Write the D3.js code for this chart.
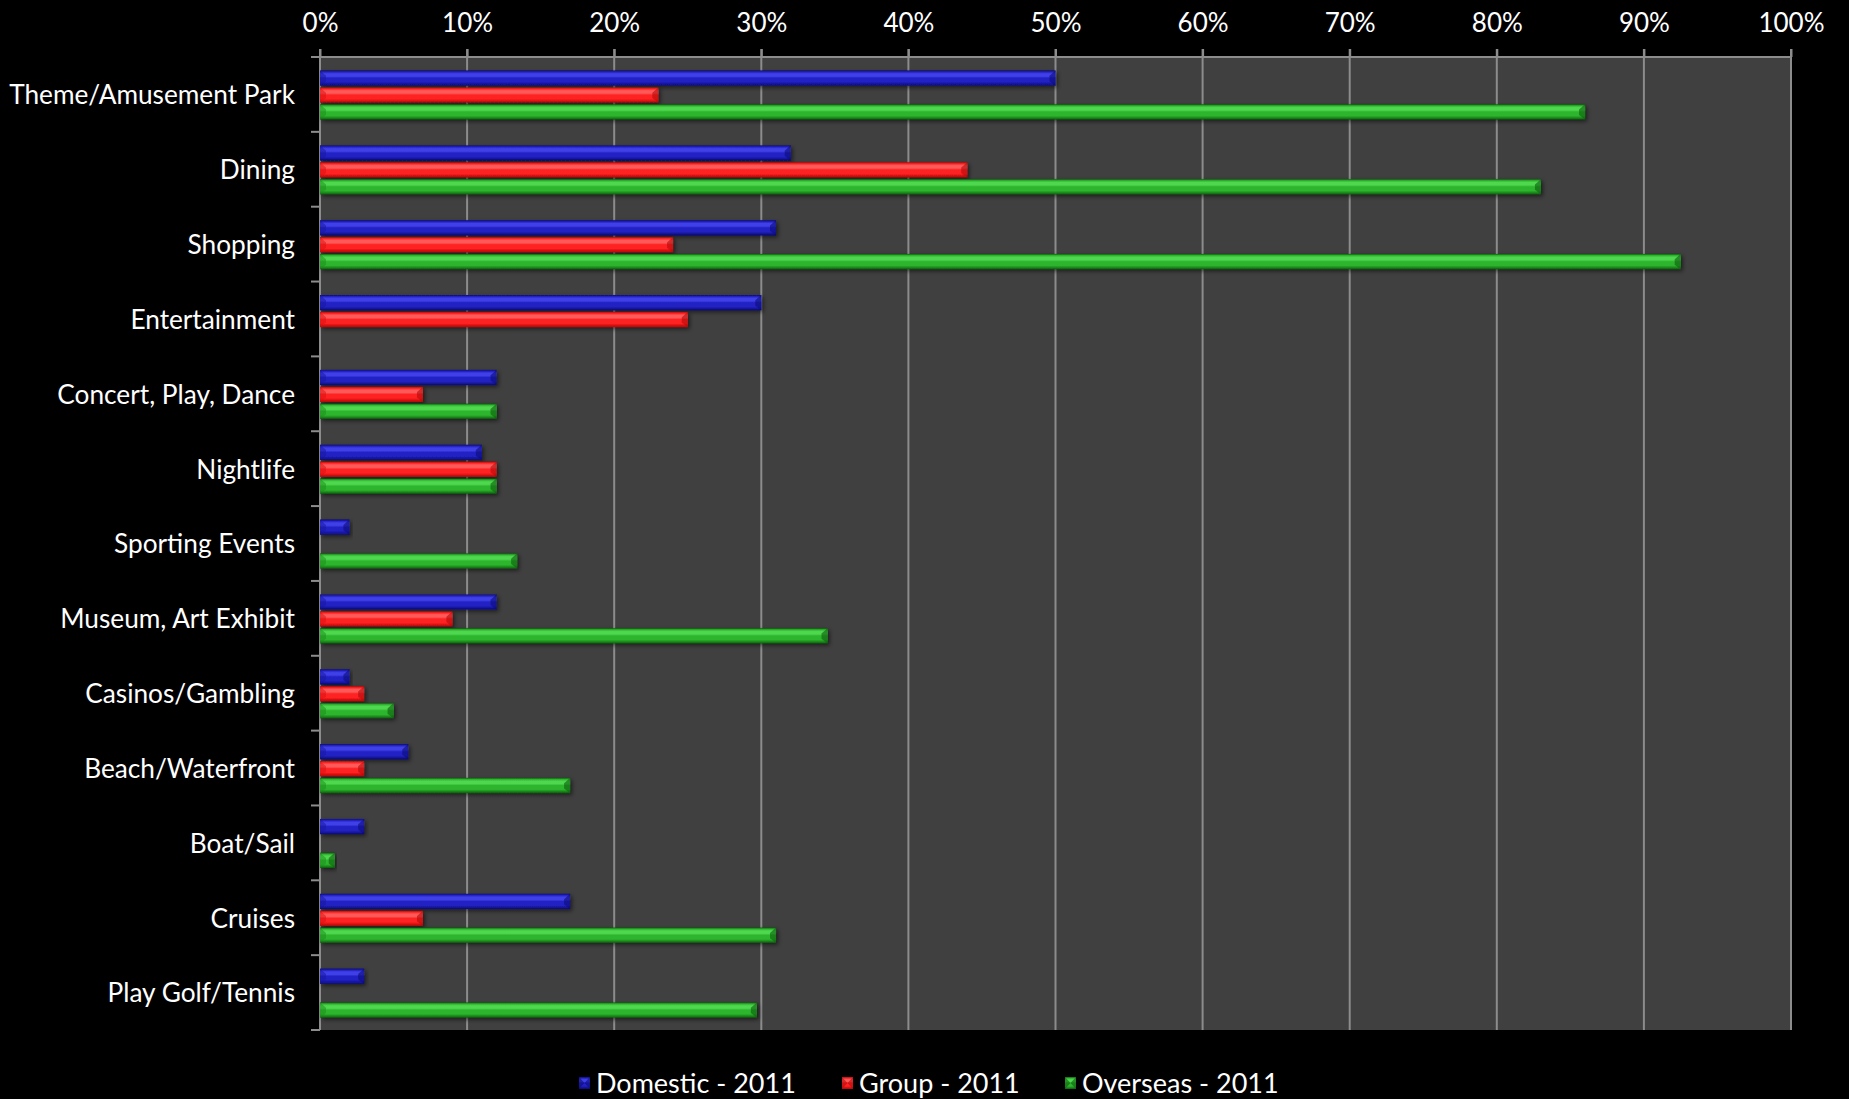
<!DOCTYPE html>
<html><head><meta charset="utf-8">
<script src="https://cdn.jsdelivr.net/npm/d3@7"></script>
<style>
html,body{margin:0;padding:0;background:#000;}
svg{display:block;}
text{font-family:Lato,"Open Sans",sans-serif;fill:#fff;}
</style></head>
<body>
<svg id="chart" width="1849" height="1099"></svg>
<script>
const categories = ["Theme/Amusement Park","Dining","Shopping","Entertainment","Concert, Play, Dance","Nightlife","Sporting Events","Museum, Art Exhibit","Casinos/Gambling","Beach/Waterfront","Boat/Sail","Cruises","Play Golf/Tennis"];
const seriesNames = ["Domestic - 2011","Group - 2011","Overseas - 2011"];
const domestic = [50,32,31,30,12,11,2,12,2,6,3,17,3];
const group    = [23,44,24,25,7,12,null,9,3,3,null,7,null];
const overseas = [86,83,92.5,null,12,12,13.4,34.5,5,17,1,31,29.7];
const xTicks = [0,10,20,30,40,50,60,70,80,90,100];

const seriesValues = [domestic, group, overseas];
const palettes = [
  {edge:"#0b0b78", hi:"#4040e8", main:"#2222c4", low:"#15159a"},
  {edge:"#b00a0a", hi:"#ff5a5a", main:"#ff2222", low:"#d81010"},
  {edge:"#0c5e0c", hi:"#4fd84f", main:"#2fb52f", low:"#1b8c1b"}
];

const svg = d3.select("#chart");
const W = 1849, H = 1099;
const m = {left:320, right:W-1791, top:57, bottom:H-1030};
const pw = W - m.left - m.right, ph = H - m.top - m.bottom;

const defs = svg.append("defs");
palettes.forEach((p,i)=>{
  const g = defs.append("linearGradient").attr("id","grad"+i).attr("x1",0).attr("y1",0).attr("x2",0).attr("y2",1);
  [[0,p.edge],[0.1,p.main],[0.22,p.hi],[0.38,p.hi],[0.5,p.main],[0.75,p.main],[0.88,p.low],[1,p.edge]].forEach(s=>g.append("stop").attr("offset",s[0]).attr("stop-color",s[1]));
});
const f = defs.append("filter").attr("id","shadow").attr("x","-5%").attr("y","-30%").attr("width","115%").attr("height","170%");
f.append("feDropShadow").attr("dx",2).attr("dy",2).attr("stdDeviation",2).attr("flood-color","#000").attr("flood-opacity",0.55);

const x = d3.scaleLinear().domain([0,100]).range([0,pw]);
const y = d3.scaleBand().domain(categories).range([0,ph]).padding(0);
const yInner = d3.scaleBand().domain([0,1,2]).range([13.5, 62.5]).paddingInner(0.1);

const root = svg.append("g").attr("transform",`translate(${m.left},${m.top})`);

root.append("rect").attr("width",pw).attr("height",ph).attr("fill","#404040");

// gridlines
root.append("g").selectAll("line").data(xTicks.slice(1)).join("line")
  .attr("x1",d=>x(d)).attr("x2",d=>x(d)).attr("y1",-8).attr("y2",ph)
  .attr("stroke","#8c8c8c").attr("stroke-width",2);

// top axis
const xAxis = root.append("g").call(d3.axisTop(x).tickValues(xTicks).tickFormat(d=>d+"%").tickSize(8).tickPadding(12));
xAxis.select(".domain").attr("stroke","#8c8c8c").attr("stroke-width",2).attr("d",`M0,0H${pw}`);
xAxis.selectAll(".tick line").attr("stroke","#8c8c8c").attr("stroke-width",2);
xAxis.selectAll(".tick text").attr("fill","#fff").attr("font-size",26).attr("font-family","Lato, sans-serif").attr("dy","0").attr("y",-25);

// left axis
const yTicks = d3.range(categories.length+1).map(i=>i*y.step());
const yAxisG = root.append("g");
yAxisG.append("line").attr("x1",0).attr("x2",0).attr("y1",-8).attr("y2",ph).attr("stroke","#8c8c8c").attr("stroke-width",2);
yAxisG.selectAll("line.t").data(yTicks).join("line").attr("class","t")
  .attr("x1",-9).attr("x2",0).attr("y1",d=>d).attr("y2",d=>d).attr("stroke","#8c8c8c").attr("stroke-width",2);
const labelG = yAxisG.append("g");
const labels = labelG.selectAll("text").data(categories).join("text")
  .attr("x",0).attr("y",d=>y(d)+y.bandwidth()/2).attr("dy","0.36em")
  .attr("text-anchor","end").attr("font-size",27.5).text(d=>d);
// compress horizontally so the longest label spans the same width as in the reference
const longest = d3.max(labels.nodes(), n=>n.getComputedTextLength());
const sx = Math.min(1, 286/longest);
labelG.attr("transform",`translate(-25,0) scale(${sx},1)`);

// bars
const bars = root.append("g");
seriesValues.forEach((vals,si)=>{
  const data = categories.map((c,i)=>({c, v:vals[i], si})).filter(d=>d.v!=null);
  const g = bars.append("g");
  const bh = yInner.bandwidth();
  const gg = g.selectAll("g").data(data).join("g")
    .attr("transform",d=>`translate(0,${y(d.c)+yInner(si)})`);
  gg.append("rect").attr("x",0).attr("y",0).attr("width",d=>x(d.v)).attr("height",bh)
    .attr("fill",`url(#grad${si})`).attr("filter","url(#shadow)");
  gg.append("path").attr("d",d=>{const w=x(d.v), c=Math.min(6,w/2);
      return `M${w-c},${bh*0.35}L${w},${0}L${w},${bh}L${w-c},${bh*0.7}Z`;})
    .attr("fill",palettes[si].edge).attr("opacity",0.6);
  gg.append("path").attr("d",d=>{const w=x(d.v), c=Math.min(6,w/2);
      return `M${c},${bh*0.35}L0,0L0,${bh}L${c},${bh*0.7}Z`;})
    .attr("fill",palettes[si].low).attr("opacity",0.5);
});

// legend
const legendX = [579, 842, 1065];
const lg = svg.append("g");
seriesNames.forEach((n,i)=>{
  const g = lg.append("g").attr("transform",`translate(${legendX[i]},1083)`);
  g.append("rect").attr("x",0).attr("y",-6).attr("width",11).attr("height",12).attr("fill",`url(#grad${i})`);
  g.append("path").attr("d","M0,-6L5.5,0L11,-6L11,6L5.5,0L0,6Z").attr("fill",palettes[i].edge).attr("opacity",0.6);
  g.append("text").attr("x",17).attr("y",0).attr("dy","0.36em").attr("font-size",27).text(n);
});
</script>
</body></html>
